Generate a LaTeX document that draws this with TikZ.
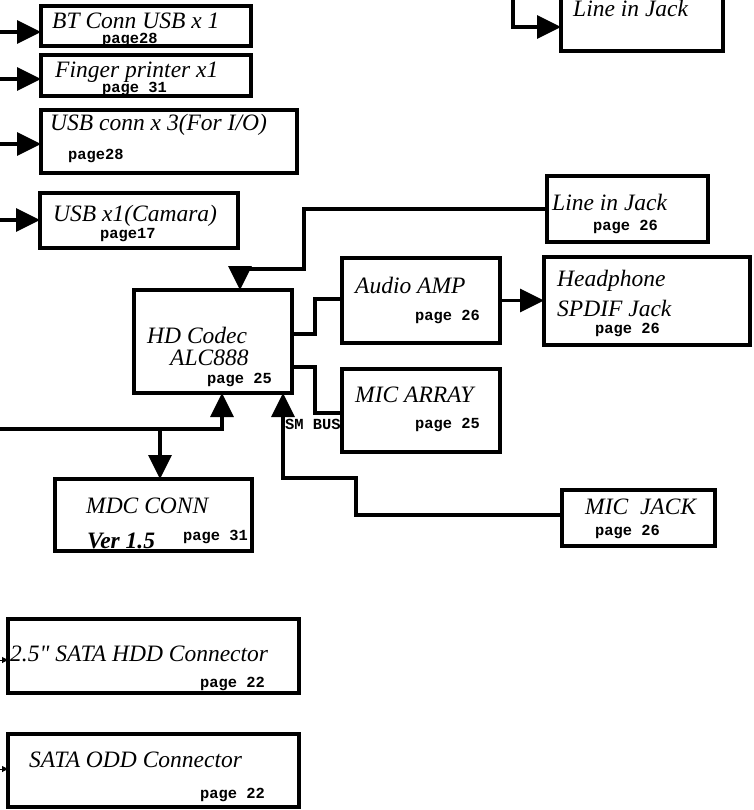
\documentclass[tikz,border=0pt]{standalone}
\usepackage{fontspec}
\setmainfont{Liberation Serif}
\newfontfamily\pagefont{Liberation Mono}
\usetikzlibrary{arrows.meta}
\begin{document}
\begin{tikzpicture}[x=1pt,y=-1pt,
 box/.style={draw, line width=4pt, inner sep=0pt, outer sep=0pt, anchor=north west},
 lbl/.style={anchor=base west, inner sep=0pt, font=\fontsize{23.5}{26}\selectfont\itshape},
 pg/.style={anchor=base west, inner sep=0pt, font=\fontsize{15.4}{17}\selectfont\pagefont\bfseries},
 wire/.style={line width=3.2pt},
 arr/.style={wire, -{Triangle[length=24pt,width=23pt]}},
 sarr/.style={line width=1pt, -{Triangle[length=6pt,width=6pt]}}]
\useasboundingbox (0,0) rectangle (753,810);
\clip (0,0) rectangle (753,810);

% boxes
\node[box, minimum width=210pt, minimum height=40pt] (bt) at (41,6) {};
\node[box, minimum width=210pt, minimum height=41pt] (fp) at (41,55) {};
\node[box, minimum width=256pt, minimum height=63pt] (usb3) at (41,110) {};
\node[box, minimum width=198pt, minimum height=55pt] (cam) at (40,193) {};
\node[box, minimum width=162pt, minimum height=71pt] (lijt) at (561,-20) {};
\node[box, minimum width=161pt, minimum height=66pt] (lij) at (547,176) {};
\node[box, minimum width=158pt, minimum height=103pt] (codec) at (134,290) {};
\node[box, minimum width=158pt, minimum height=85pt] (amp) at (342,258) {};
\node[box, minimum width=206pt, minimum height=88pt] (hp) at (544,257) {};
\node[box, minimum width=158pt, minimum height=83pt] (mic) at (342,369) {};
\node[box, minimum width=197pt, minimum height=72pt] (mdc) at (55,479) {};
\node[box, minimum width=153pt, minimum height=56pt] (mj) at (562,490) {};
\node[box, minimum width=291pt, minimum height=74pt] (hdd) at (8,619) {};
\node[box, minimum width=291pt, minimum height=73pt] (odd) at (8,734) {};

% texts
\node[lbl] (bt-t) at (52,29) {BT Conn USB x 1};
\node[pg] (bt-p) at (102,44) {page28};
\node[lbl] (fp-t) at (55,78) {Finger printer x1};
\node[pg] (fp-p) at (102,93) {page 31};
\node[lbl] (usb3-t) at (50,131) {USB conn x 3(For I/O)};
\node[pg] (usb3-p) at (68,160) {page28};
\node[lbl] (cam-t) at (53,222) {USB x1(Camara)};
\node[pg] (cam-p) at (100,238) {page17};
\node[lbl] (lijt-t) at (573,17) {Line in Jack};
\node[lbl] (lij-t) at (552,211) {Line in Jack};
\node[pg] (lij-p) at (593,230) {page 26};
\node[lbl] (amp-t) at (355,293) {Audio AMP};
\node[pg] (amp-p) at (415,320) {page 26};
\node[lbl] (hp-t1) at (557,286) {Headphone};
\node[lbl] (hp-t2) at (557,316) {SPDIF Jack};
\node[pg] (hp-p) at (595,333) {page 26};
\node[lbl] (mic-t) at (355,402) {MIC ARRAY};
\node[pg] (mic-p) at (415,428) {page 25};
\node[pg] (smbus) at (285,429) {SM BUS};
\node[lbl] (codec-t1) at (147,343) {HD Codec};
\node[lbl] (codec-t2) at (170,365) {ALC888};
\node[pg] (codec-p) at (207,383) {page 25};
\node[lbl] (mdc-t) at (86,513) {MDC CONN};
\node[lbl, font=\fontsize{23.5}{26}\selectfont\bfseries\itshape] (mdc-v) at (87,548) {Ver 1.5};
\node[pg] (mdc-p) at (183,540) {page 31};
\node[lbl] (mj-t) at (585,514) {MIC\ \ JACK};
\node[pg] (mj-p) at (595,535) {page 26};
\node[lbl] (hdd-t) at (10,661) {2.5\textquotedbl\ SATA HDD Connector};
\node[pg] (hdd-p) at (200,687) {page 22};
\node[lbl] (odd-t) at (29,767) {SATA ODD Connector};
\node[pg] (odd-p) at (200,798) {page 22};

% connectors
\coordinate (s1) at (0,32);  \draw[arr] (s1) -- (s1 -| bt.west);
\coordinate (s2) at (0,79);  \draw[arr] (s2) -- (s2 -| fp.west);
\coordinate (s3) at (0,144); \draw[arr] (s3) -- (s3 -| usb3.west);
\coordinate (s4) at (0,220); \draw[arr] (s4) -- (s4 -| cam.west);

\coordinate (t0) at (513,-5); \coordinate (t1) at (513,27);
\draw[arr] (t0) -- (t1) -- (t1 -| lijt.west);

\coordinate (l1) at (304,209); \coordinate (l2) at (304,269); \coordinate (l3) at (240,269);
\draw[arr] (lij.west |- l1) -- (l1) -- (l2) -- (l3) -- (l3 |- codec.north);

\coordinate (a1) at (315,334); \coordinate (a2) at (315,299);
\draw[wire] (codec.east |- a1) -- (a1) -- (a2) -- (a2 -| amp.west);
\coordinate (m1) at (315,367); \coordinate (m2) at (315,413);
\draw[wire] (codec.east |- m1) -- (m1) -- (m2) -- (m2 -| mic.west);

\draw[arr] (amp.east) -- (amp.east -| hp.west);

\coordinate (b0) at (0,429); \coordinate (bj) at (160,429); \coordinate (b1) at (222,429);
\draw[arr] (b0) -- (b1) -- (b1 |- codec.south);
\draw[arr] (bj) -- (bj |- mdc.north);

\coordinate (q1) at (356,515); \coordinate (q2) at (356,478); \coordinate (q3) at (283,478);
\draw[arr] (mj.west |- q1) -- (q1) -- (q2) -- (q3) -- (q3 |- codec.south);

\coordinate (h0) at (0,660); \draw[sarr] (h0) -- (h0 -| hdd.west);
\coordinate (o0) at (0,769); \draw[sarr] (o0) -- (o0 -| odd.west);
\end{tikzpicture}
\end{document}
